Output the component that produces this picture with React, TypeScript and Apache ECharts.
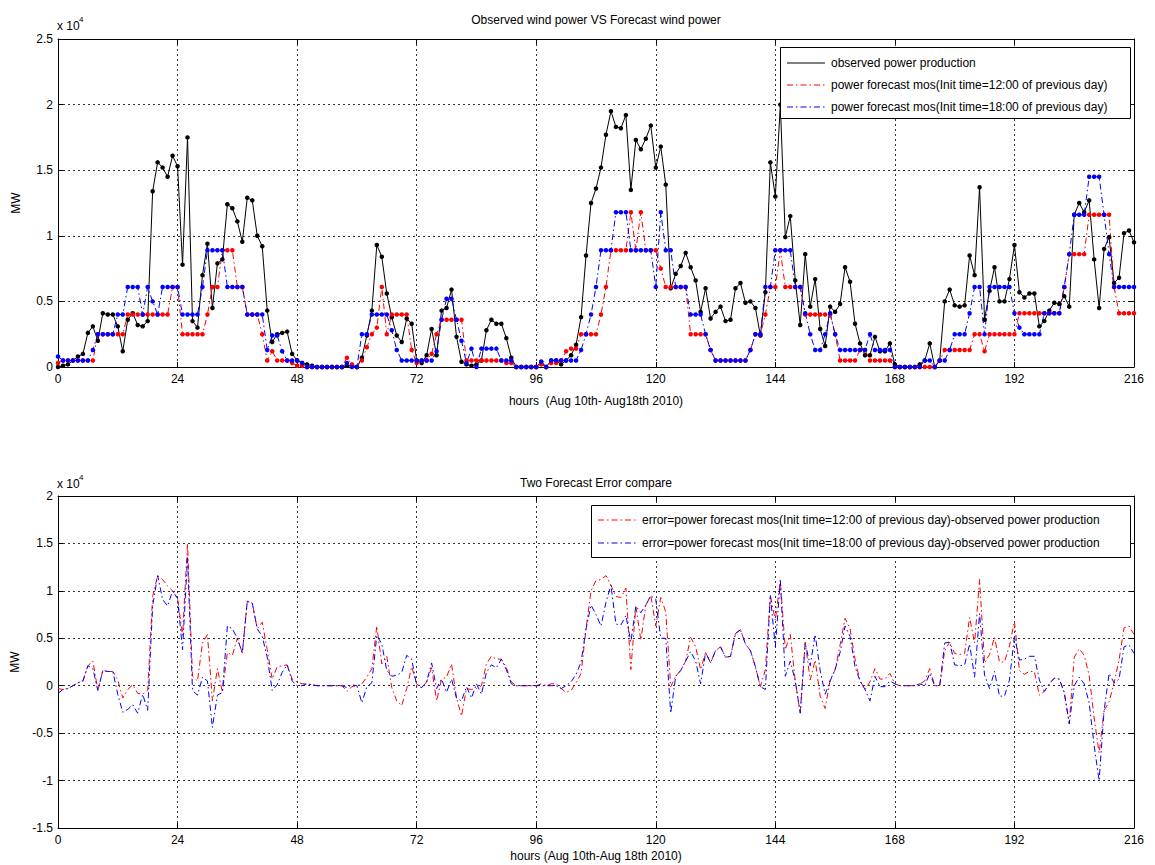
import React, { useEffect, useRef } from "react";
import * as echarts from "echarts";

// Values in units of 10^4 MW, one per hour (0..216)
const observed = [
  0.00, 0.01, 0.02, 0.05, 0.08, 0.10, 0.26, 0.31, 0.20, 0.41,
  0.40, 0.40, 0.31, 0.12, 0.36, 0.41, 0.32, 0.31, 0.35, 1.34,
  1.56, 1.52, 1.45, 1.61, 1.53, 0.78, 1.75, 0.35, 0.30, 0.70,
  0.94, 0.45, 0.79, 0.82, 1.24, 1.21, 1.11, 0.955, 1.29, 1.27,
  1.00, 0.92, 0.43, 0.19, 0.25, 0.26, 0.27, 0.10, 0.05, 0.03,
  0.02, 0.01, 0.00, 0.00, 0.00, 0.00, 0.00, 0.00, 0.01, 0.01,
  0.00, 0.07, 0.24, 0.43, 0.93, 0.84, 0.56, 0.38, 0.24, 0.19,
  0.37, 0.33, 0.05, 0.03, 0.09, 0.29, 0.09, 0.43, 0.45, 0.59,
  0.23, 0.04, 0.02, 0.01, 0.02, 0.05, 0.28, 0.36, 0.33, 0.33,
  0.22, 0.07, 0.00, 0.00, 0.00, 0.00, 0.00, 0.04, 0.00, 0.05,
  0.05, 0.02, 0.05, 0.09, 0.17, 0.38, 0.85, 1.25, 1.36, 1.52,
  1.77, 1.95, 1.83, 1.82, 1.92, 1.35, 1.73, 1.66, 1.74, 1.84,
  1.52, 1.68, 1.39, 0.60, 0.71, 0.77, 0.87, 0.76, 0.66, 0.42,
  0.60, 0.37, 0.42, 0.46, 0.35, 0.36, 0.60, 0.64, 0.49, 0.50,
  0.45, 0.24, 0.57, 1.56, 1.30, 2.00, 0.99, 1.15, 0.66, 0.32,
  0.86, 0.46, 0.67, 0.29, 0.16, 0.46, 0.42, 0.48, 0.76, 0.65,
  0.33, 0.18, 0.09, 0.09, 0.23, 0.12, 0.12, 0.18, 0.02, 0.00,
  0.00, 0.00, 0.00, 0.02, 0.05, 0.18, 0.00, 0.05, 0.50, 0.59,
  0.47, 0.46, 0.47, 0.85, 0.70, 1.37, 0.36, 0.58, 0.76, 0.50,
  0.50, 0.67, 0.93, 0.57, 0.53, 0.56, 0.56, 0.31, 0.35, 0.43,
  0.49, 0.48, 0.54, 0.46, 1.16, 1.25, 1.18, 1.27, 0.82, 0.45,
  0.90, 0.99, 0.64, 0.68, 1.02, 1.04, 0.95,
];

const forecast12 = [
  0.03, 0.05, 0.05, 0.05, 0.05, 0.05, 0.05, 0.05, 0.25, 0.25,
  0.25, 0.25, 0.25, 0.25, 0.40, 0.40, 0.40, 0.40, 0.40, 0.40,
  0.40, 0.40, 0.40, 0.61, 0.61, 0.25, 0.25, 0.25, 0.25, 0.25,
  0.40, 0.61, 0.61, 0.89, 0.89, 0.89, 0.61, 0.61, 0.40, 0.40,
  0.40, 0.25, 0.05, 0.12, 0.05, 0.05, 0.05, 0.03, 0.01, 0.01,
  0.00, 0.00, 0.00, 0.00, 0.00, 0.00, 0.00, 0.00, 0.07, 0.02,
  0.00, 0.05, 0.15, 0.25, 0.30, 0.61, 0.25, 0.40, 0.40, 0.40,
  0.40, 0.13, 0.03, 0.05, 0.05, 0.10, 0.25, 0.36, 0.36, 0.36,
  0.36, 0.36, 0.05, 0.05, 0.05, 0.05, 0.05, 0.05, 0.05, 0.05,
  0.03, 0.03, 0.00, 0.00, 0.00, 0.00, 0.00, 0.02, 0.00, 0.03,
  0.03, 0.05, 0.12, 0.14, 0.14, 0.25, 0.25, 0.25, 0.25, 0.40,
  0.61, 0.89, 0.89, 0.89, 0.89, 1.18, 0.89, 1.18, 0.89, 0.89,
  0.89, 0.75, 0.61, 0.61, 0.61, 0.61, 0.61, 0.25, 0.25, 0.25,
  0.25, 0.13, 0.05, 0.05, 0.05, 0.05, 0.05, 0.05, 0.05, 0.13,
  0.25, 0.25, 0.40, 0.61, 0.61, 0.89, 0.61, 0.61, 0.61, 0.61,
  0.40, 0.40, 0.40, 0.40, 0.40, 0.40, 0.25, 0.05, 0.05, 0.05,
  0.05, 0.13, 0.13, 0.05, 0.05, 0.05, 0.05, 0.05, 0.00, 0.00,
  0.00, 0.00, 0.00, 0.00, 0.00, 0.00, 0.00, 0.05, 0.13, 0.13,
  0.13, 0.13, 0.13, 0.13, 0.25, 0.25, 0.12, 0.25, 0.25, 0.25,
  0.25, 0.25, 0.25, 0.41, 0.41, 0.41, 0.41, 0.41, 0.41, 0.41,
  0.41, 0.41, 0.61, 0.86, 0.86, 0.86, 0.86, 1.16, 1.16, 1.16,
  1.16, 1.16, 0.61, 0.41, 0.41, 0.41, 0.41,
];

const forecast18 = [
  0.08, 0.05, 0.05, 0.05, 0.05, 0.05, 0.05, 0.13, 0.25, 0.25,
  0.25, 0.25, 0.40, 0.40, 0.61, 0.61, 0.61, 0.40, 0.61, 0.50,
  0.40, 0.61, 0.61, 0.61, 0.61, 0.40, 0.40, 0.40, 0.40, 0.61,
  0.89, 0.89, 0.89, 0.89, 0.61, 0.61, 0.61, 0.61, 0.40, 0.40,
  0.40, 0.40, 0.13, 0.24, 0.24, 0.12, 0.05, 0.05, 0.05, 0.03,
  0.00, 0.00, 0.00, 0.00, 0.00, 0.00, 0.00, 0.00, 0.03, 0.00,
  0.00, 0.25, 0.25, 0.40, 0.40, 0.40, 0.40, 0.28, 0.13, 0.05,
  0.05, 0.05, 0.05, 0.05, 0.05, 0.05, 0.12, 0.36, 0.52, 0.52,
  0.36, 0.20, 0.03, 0.14, 0.00, 0.14, 0.14, 0.14, 0.14, 0.05,
  0.05, 0.05, 0.00, 0.00, 0.00, 0.00, 0.00, 0.04, 0.00, 0.05,
  0.05, 0.05, 0.05, 0.05, 0.05, 0.13, 0.25, 0.40, 0.61, 0.89,
  0.89, 0.89, 1.18, 1.18, 1.18, 0.89, 0.89, 0.89, 0.89, 0.89,
  0.61, 1.18, 0.89, 0.89, 0.61, 0.61, 0.61, 0.40, 0.40, 0.40,
  0.25, 0.13, 0.05, 0.05, 0.05, 0.05, 0.05, 0.05, 0.05, 0.13,
  0.25, 0.25, 0.61, 0.61, 0.89, 0.89, 0.89, 0.89, 0.61, 0.61,
  0.41, 0.25, 0.13, 0.13, 0.25, 0.41, 0.25, 0.13, 0.13, 0.13,
  0.13, 0.13, 0.13, 0.25, 0.13, 0.13, 0.13, 0.13, 0.00, 0.00,
  0.00, 0.00, 0.00, 0.00, 0.05, 0.05, 0.00, 0.05, 0.05, 0.13,
  0.25, 0.25, 0.25, 0.41, 0.61, 0.61, 0.25, 0.61, 0.61, 0.61,
  0.61, 0.61, 0.41, 0.30, 0.25, 0.25, 0.25, 0.25, 0.41, 0.41,
  0.41, 0.41, 0.61, 0.86, 1.16, 1.16, 1.16, 1.45, 1.45, 1.45,
  1.16, 0.86, 0.61, 0.61, 0.61, 0.61, 0.61,
];

const xTickInterval = 24;
const topYTicks = { min: 0, max: 2.5, interval: 0.5 };
const bottomYTicks = { min: -1.5, max: 2, interval: 0.5 };

const topTitle = "Observed wind power VS Forecast wind power";
const bottomTitle = "Two Forecast Error compare";
const topXName = "hours  (Aug 10th- Aug18th 2010)";
const bottomXName = "hours (Aug 10th-Aug 18th 2010)";
const legendTop = [
  "observed power production",
  "power forecast mos(Init time=12:00 of previous day)",
  "power forecast mos(Init time=18:00 of previous day)",
];
const legendBottom = [
  "error=power forecast mos(Init time=12:00 of previous day)-observed power production",
  "error=power forecast mos(Init time=18:00 of previous day)-observed power production",
];

const FONT = "Liberation Sans, Arial, sans-serif";
const DASHDOT = [6, 3, 1.5, 3];

export default function App() {
  const ref = useRef<HTMLDivElement>(null);

  useEffect(() => {
    document.body.style.margin = "0";
    const chart = echarts.init(ref.current!, undefined, { renderer: "svg" });

    const pairs = (arr: number[]) => arr.map((v, i) => [i, v]);
    // error curves plotted as (observed - forecast), as drawn in the reference
    const err12 = observed.map((v, i) => [i, +(v - forecast12[i]).toFixed(3)]);
    const err18 = observed.map((v, i) => [i, +(v - forecast18[i]).toFixed(3)]);

    const grids = [
      { left: 58, top: 39, width: 1076, height: 328 },
      { left: 58, top: 496, width: 1076, height: 332 },
    ];

    const xMain = (gi: number, name: string, gap: number) => ({
      gridIndex: gi,
      type: "value",
      min: 0,
      max: 216,
      interval: xTickInterval,
      name,
      nameLocation: "middle",
      nameGap: gap,
      nameTextStyle: { color: "#000", fontSize: 12, fontFamily: FONT },
      axisLine: { show: true, onZero: false, lineStyle: { color: "#000", width: 1 } },
      axisTick: { show: true, inside: true, length: 5, lineStyle: { color: "#000" } },
      axisLabel: { color: "#000", fontSize: 12, fontFamily: FONT, margin: 6 },
      splitLine: { show: true, lineStyle: { color: "#333", type: [2, 3], width: 1 } },
    });
    const xTop = (gi: number) => ({
      gridIndex: gi,
      type: "value",
      position: "top",
      min: 0,
      max: 216,
      interval: xTickInterval,
      axisLine: { show: true, onZero: false, lineStyle: { color: "#000", width: 1 } },
      axisTick: { show: true, inside: true, length: 5, lineStyle: { color: "#000" } },
      axisLabel: { show: false },
      splitLine: { show: false },
    });
    const yMain = (gi: number, t: { min: number; max: number; interval: number }) => ({
      gridIndex: gi,
      type: "value",
      min: t.min,
      max: t.max,
      interval: t.interval,
      name: "MW",
      nameLocation: "middle",
      nameGap: 36,
      nameRotate: 90,
      nameTextStyle: { color: "#000", fontSize: 12, fontFamily: FONT },
      axisLine: { show: true, onZero: false, lineStyle: { color: "#000", width: 1 } },
      axisTick: { show: true, inside: true, length: 5, lineStyle: { color: "#000" } },
      axisLabel: { color: "#000", fontSize: 12, fontFamily: FONT, margin: 5 },
      splitLine: { show: true, lineStyle: { color: "#333", type: [2, 3], width: 1 } },
    });
    const yRight = (gi: number, t: { min: number; max: number; interval: number }) => ({
      gridIndex: gi,
      type: "value",
      position: "right",
      min: t.min,
      max: t.max,
      interval: t.interval,
      axisLine: { show: true, onZero: false, lineStyle: { color: "#000", width: 1 } },
      axisTick: { show: true, inside: true, length: 5, lineStyle: { color: "#000" } },
      axisLabel: { show: false },
      splitLine: { show: false },
    });

    const txt = (x: number, y: number, text: string, extra: any = {}) => ({
      type: "text",
      x,
      y,
      z: 100,
      style: {
        text,
        fill: "#000",
        fontSize: 12,
        fontFamily: FONT,
        textVerticalAlign: "middle",
        ...extra,
      },
    });
    const lineEl = (x1: number, x2: number, y: number, color: string, dash: any) => ({
      type: "line",
      z: 100,
      shape: { x1, y1: y, x2, y2: y },
      style: { stroke: color, lineWidth: 1, lineDash: dash },
    });

    const option: any = {
      animation: false,
      backgroundColor: "#fff",
      grid: grids,
      xAxis: [xMain(0, topXName, 28), xTop(0), xMain(1, bottomXName, 22), xTop(1)],
      yAxis: [yMain(0, topYTicks), yRight(0, topYTicks), yMain(1, bottomYTicks), yRight(1, bottomYTicks)],
      series: [
        {
          name: legendTop[0],
          type: "line",
          xAxisIndex: 0,
          yAxisIndex: 0,
          data: pairs(observed),
          symbol: "circle",
          symbolSize: 4.5,
          itemStyle: { color: "#000" },
          lineStyle: { color: "#000", width: 1 },
        },
        {
          name: legendTop[1],
          type: "line",
          xAxisIndex: 0,
          yAxisIndex: 0,
          data: pairs(forecast12),
          symbol: "circle",
          symbolSize: 4.5,
          itemStyle: { color: "#ff0000" },
          lineStyle: { color: "#ff0000", width: 1, type: DASHDOT },
        },
        {
          name: legendTop[2],
          type: "line",
          xAxisIndex: 0,
          yAxisIndex: 0,
          data: pairs(forecast18),
          symbol: "circle",
          symbolSize: 4.5,
          itemStyle: { color: "#0000ff" },
          lineStyle: { color: "#0000ff", width: 1, type: DASHDOT },
        },
        {
          name: legendBottom[0],
          type: "line",
          xAxisIndex: 2,
          yAxisIndex: 2,
          data: err12,
          showSymbol: false,
          symbol: "none",
          lineStyle: { color: "#ff0000", width: 1, type: DASHDOT },
        },
        {
          name: legendBottom[1],
          type: "line",
          xAxisIndex: 2,
          yAxisIndex: 2,
          data: err18,
          showSymbol: false,
          symbol: "none",
          lineStyle: { color: "#0000ff", width: 1, type: DASHDOT },
        },
      ],
      graphic: [
        txt(596, 20, topTitle, { textAlign: "center" }),
        txt(596, 483, bottomTitle, { textAlign: "center" }),
        txt(57, 26, "x 10"),
        txt(79, 19, "4", { fontSize: 8 }),
        txt(57, 484, "x 10"),
        txt(79, 477, "4", { fontSize: 8 }),
        // top legend
        {
          type: "rect",
          z: 99,
          shape: { x: 780.5, y: 47.5, width: 350, height: 71 },
          style: { fill: "#fff", stroke: "#000", lineWidth: 1 },
        },
        lineEl(787, 825, 63, "#000", null),
        lineEl(787, 825, 85, "#ff0000", DASHDOT),
        lineEl(787, 825, 107, "#0000ff", DASHDOT),
        txt(831, 63, legendTop[0]),
        txt(831, 85, legendTop[1]),
        txt(831, 107, legendTop[2]),
        // bottom legend
        {
          type: "rect",
          z: 99,
          shape: { x: 591.5, y: 505.5, width: 539, height: 52 },
          style: { fill: "#fff", stroke: "#000", lineWidth: 1 },
        },
        lineEl(598, 638, 520, "#ff0000", DASHDOT),
        lineEl(598, 638, 543, "#0000ff", DASHDOT),
        txt(642, 520, legendBottom[0]),
        txt(642, 543, legendBottom[1]),
      ],
    };

    chart.setOption(option);
    return () => chart.dispose();
  }, []);

  return <div ref={ref} style={{ width: 1155, height: 865 }} />;
}
